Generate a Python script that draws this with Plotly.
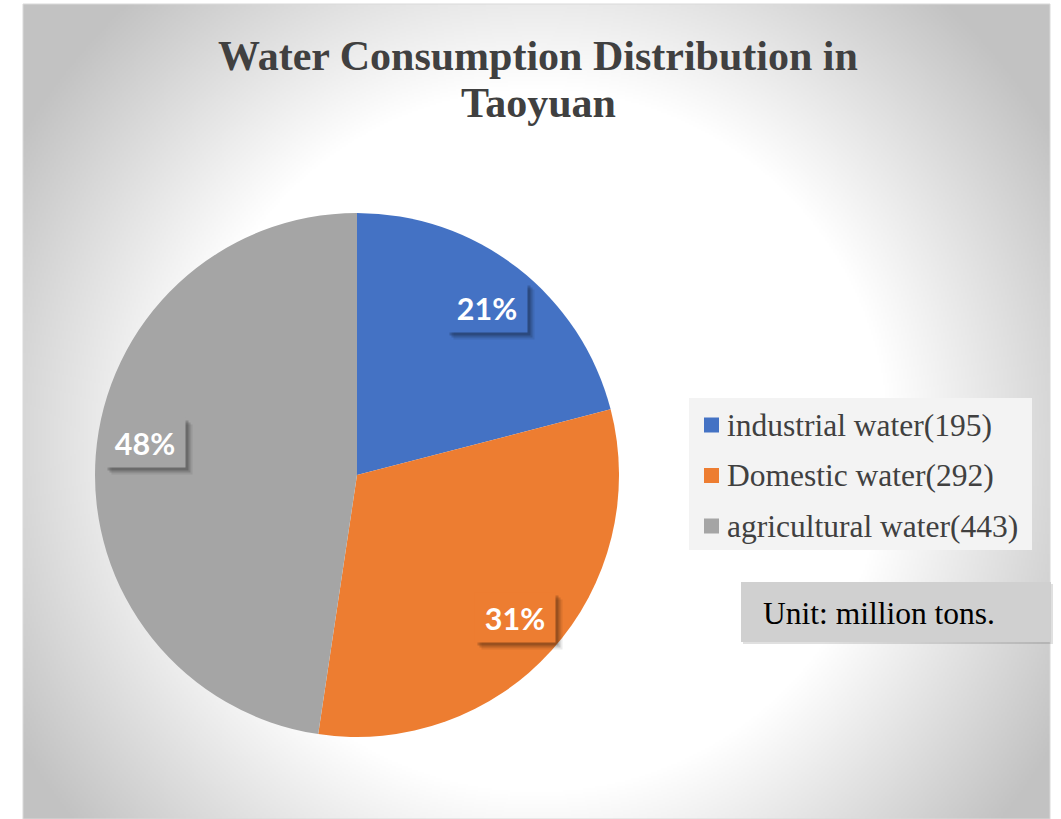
import math
import zlib
import struct
import base64

import numpy as np
import plotly.graph_objects as go

# ---- data -------------------------------------------------------------
categories = ["industrial water", "Domestic water", "agricultural water"]
consumption = [195, 292, 443]          # million tons
slice_colors = ["#4472C4", "#ED7D31", "#A5A5A5"]
title_lines = ["Water Consumption Distribution in", "Taoyuan"]
unit_note = "Unit: million tons."

# ---- canvas / layout geometry (pixels) ---------------------------------
W, H = 1061, 819
AREA_X0, AREA_Y0, AREA_X1, AREA_Y1 = 23, 4, 1050, 819
PIE_CX, PIE_CY, PIE_R = 357, 475, 262
LABEL_R = 0.81
# vertical nudge (px, upward) so the large slice's callout clears the edge
label_nudge = {"agricultural water": 17}


def px(x):
    return x / W


def py(y):
    return 1 - y / H


def png_uri(rgb):
    """Encode an HxWx3 uint8 array as a PNG data URI."""
    h, w, _ = rgb.shape
    raw = b"".join(b"\x00" + rgb[i].tobytes() for i in range(h))

    def chunk(tag, data):
        body = tag + data
        return struct.pack(">I", len(data)) + body + struct.pack(">I", zlib.crc32(body) & 0xFFFFFFFF)

    png = (b"\x89PNG\r\n\x1a\n"
           + chunk(b"IHDR", struct.pack(">IIBBBBB", w, h, 8, 2, 0, 0, 0))
           + chunk(b"IDAT", zlib.compress(raw, 9))
           + chunk(b"IEND", b""))
    return "data:image/png;base64," + base64.b64encode(png).decode()


def radial_fill(w, h, cx, cy, r0, r1, lo, scale=2):
    gw, gh = w // scale, h // scale
    xs = (np.arange(gw) + 0.5) * scale
    ys = (np.arange(gh) + 0.5) * scale
    X, Y = np.meshgrid(xs, ys)
    t = np.clip((np.hypot(X - cx, Y - cy) - r0) / (r1 - r0), 0, 1)
    v = (255 - (255 - lo) * t).round().astype(np.uint8)
    return np.dstack([v, v, v])


area_w, area_h = AREA_X1 - AREA_X0, AREA_Y1 - AREA_Y0
bg = radial_fill(area_w, area_h, cx=area_w / 2, cy=436, r0=350, r1=600, lo=194)

# ---- pie --------------------------------------------------------------
fig = go.Figure(go.Pie(
    labels=categories,
    values=consumption,
    marker=dict(colors=slice_colors, line=dict(width=0)),
    sort=False,
    direction="clockwise",
    rotation=0,
    textinfo="none",
    hoverinfo="label+value+percent",
    showlegend=False,
    domain=dict(x=[px(PIE_CX - PIE_R), px(PIE_CX + PIE_R)],
                y=[py(PIE_CY + PIE_R), py(PIE_CY - PIE_R)]),
))

annotations = []
shapes = []

# chart-area frame
shapes.append(dict(type="rect", xref="paper", yref="paper", layer="below",
                   x0=px(AREA_X0), x1=px(AREA_X1), y0=py(AREA_Y1), y1=py(AREA_Y0),
                   line=dict(color="#d9d9d9", width=1), fillcolor="rgba(0,0,0,0)"))

# title, one annotation per line
for i, line in enumerate(title_lines):
    annotations.append(dict(
        text=f"<b>{line}</b>", xref="paper", yref="paper",
        x=px(538), y=py(56 + i * 47), xanchor="center", yanchor="middle",
        showarrow=False,
        font=dict(family="Liberation Serif", size=42, color="#404040"),
    ))

# percentage callouts at the middle angle of each slice
total = sum(consumption)
cum = 0.0
for name, val, col in zip(categories, consumption, slice_colors):
    frac = val / total
    mid = (cum + frac / 2) * 2 * math.pi
    cum += frac
    lx = PIE_CX + LABEL_R * PIE_R * math.sin(mid)
    ly = PIE_CY - LABEL_R * PIE_R * math.cos(mid) - label_nudge.get(name, 0)
    box = dict(xref="paper", yref="paper", x=px(lx), y=py(ly),
               xanchor="center", yanchor="middle", showarrow=False,
               width=80, height=49, borderpad=0)
    for off, alpha in ((7, 0.08), (5, 0.14), (3, 0.18)):
        annotations.append(dict(box, text=" ", bgcolor=f"rgba(0,0,0,{alpha})",
                                xshift=off, yshift=-off,
                                font=dict(size=10, color="rgba(0,0,0,0)")))
    annotations.append(dict(
        box, text=f"<b>{round(frac * 100)}%</b>", bgcolor=col,
        font=dict(family="Lato", size=30.5, color="white"),
    ))

# legend block
LEG_X0, LEG_Y0, LEG_X1, LEG_Y1 = 689, 398, 1032, 550
shapes.append(dict(type="rect", xref="paper", yref="paper",
                   x0=px(LEG_X0), x1=px(LEG_X1), y0=py(LEG_Y1), y1=py(LEG_Y0),
                   line=dict(width=0), fillcolor="#f3f3f3"))
for i, (name, val, col) in enumerate(zip(categories, consumption, slice_colors)):
    row_y = LEG_Y0 + 27 + i * 50.5
    shapes.append(dict(type="rect", xref="paper", yref="paper",
                       x0=px(704), x1=px(719), y0=py(row_y + 7.5), y1=py(row_y - 7.5),
                       line=dict(width=0), fillcolor=col))
    annotations.append(dict(
        text=f"{name}({val})", xref="paper", yref="paper",
        x=px(725), y=py(row_y), xanchor="left", yanchor="middle",
        showarrow=False,
        font=dict(family="Liberation Serif", size=31.5, color="#404040"),
    ))

# unit note box
shapes.append(dict(type="rect", xref="paper", yref="paper",
                   x0=px(743), x1=px(1053), y0=py(644), y1=py(584),
                   line=dict(width=0), fillcolor="rgba(0,0,0,0.12)"))
shapes.append(dict(type="rect", xref="paper", yref="paper",
                   x0=px(741), x1=px(1051), y0=py(642), y1=py(582),
                   line=dict(width=0), fillcolor="#d0d0d0"))
annotations.append(dict(
    text=unit_note, xref="paper", yref="paper",
    x=px(761), y=py(613), xanchor="left", yanchor="middle", showarrow=False,
    font=dict(family="Liberation Serif", size=31.5, color="#000000"),
))

fig.update_layout(
    width=W, height=H, autosize=False,
    margin=dict(l=0, r=0, t=0, b=0),
    paper_bgcolor="white",
    plot_bgcolor="white",
    images=[dict(source=png_uri(bg), xref="paper", yref="paper",
                 x=px(AREA_X0), y=py(AREA_Y0), sizex=area_w / W, sizey=area_h / H,
                 xanchor="left", yanchor="top", sizing="stretch", layer="below")],
    shapes=shapes,
    annotations=annotations,
)

fig.write_html("out.html")
